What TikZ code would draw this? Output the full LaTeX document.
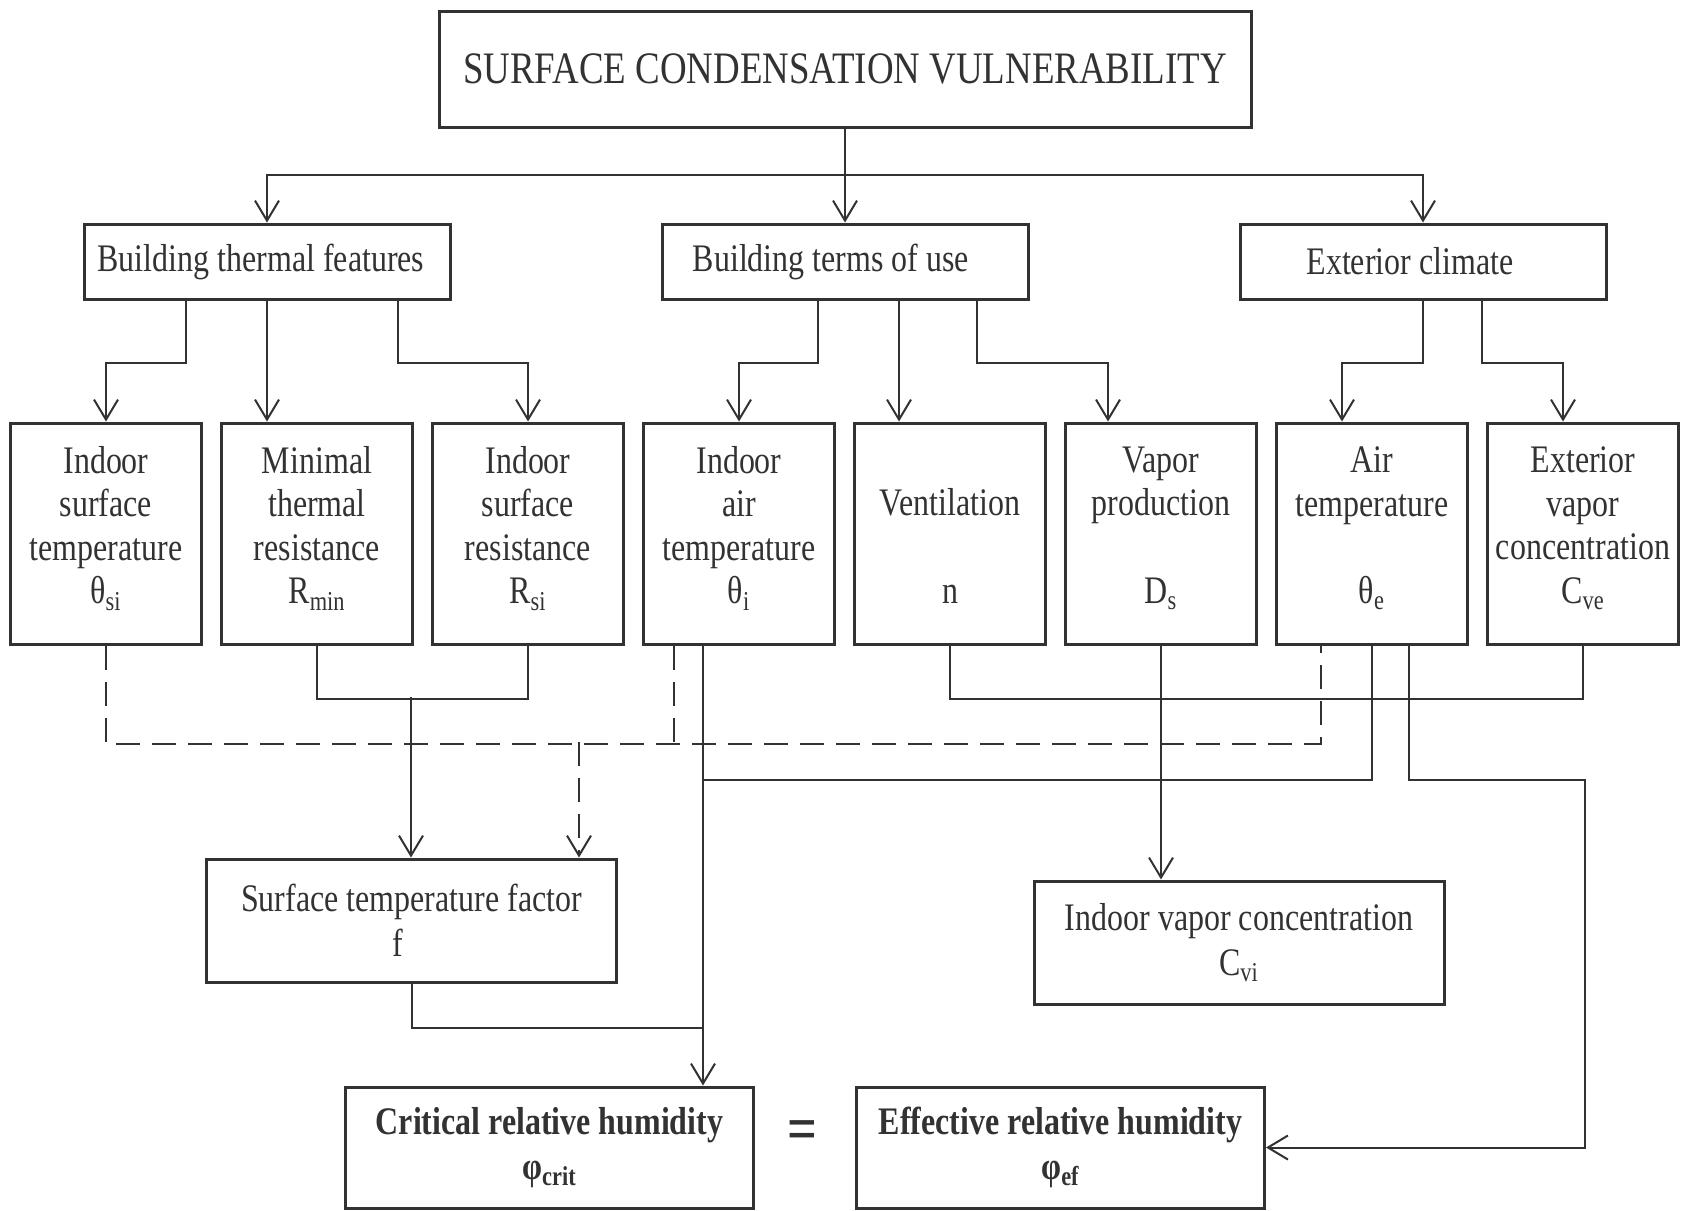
\documentclass[tikz,border=0pt]{standalone}
\usepackage{fontspec}
\setmainfont{Liberation Serif}[FakeStretch=0.82]
\usetikzlibrary{arrows.meta,calc}
\definecolor{ink}{RGB}{50,50,50}
\tikzset{
  box/.style={draw=ink,line width=1.5pt,text=ink,align=center,inner sep=0pt},
  topbox/.style={box,minimum width=406pt,minimum height=58pt,font=\fontsize{22.5}{26}\selectfont},
  groupbox/.style={box,minimum width=183pt,minimum height=37.5pt,font=\fontsize{19.5}{22.25}\selectfont},
  itembox/.style={box,minimum width=95.5pt,minimum height=110.5pt,font=\fontsize{19.5}{21.8}\selectfont,
    execute at end node={\rule[-8.5pt]{0pt}{8.5pt}}},
  resbox/.style={box,minimum width=205pt,minimum height=61.5pt,font=\fontsize{19.5}{22.25}\selectfont},
  endbox/.style={box,minimum width=204pt,minimum height=60.5pt,font=\fontsize{19.5}{22.5}\selectfont\bfseries},
  eqsign/.style={text=ink,inner sep=0pt,font=\fontsize{32}{32}\selectfont\bfseries},
  arr/.style={-{Straight Barb[length=10pt,width=12pt]}},
  dline/.style={dash pattern=on 12pt off 6pt}
}
\begin{document}
\begin{tikzpicture}[x=0.5pt,y=-0.5pt,line width=1pt,color=ink]
  \useasboundingbox (0,0) rectangle (1688,1211);
  % top and groups
  \node[topbox] (scv) at (845,69) {SURFACE CONDENSATION VULNERABILITY};
  \node[groupbox] (thermal) at (267,261.5) {Building thermal features\hspace*{6pt}};
  \node[groupbox] (terms) at (845,261.5) {Building terms of use\hspace*{14pt}};
  \node[groupbox] (climate) at (1423,261.5) {Exterior climate\hspace*{13pt}};
  % parameters
  \node[itembox] (tsi) at (106,533.5) {Indoor\\surface\\temperature\\θ\textsubscript{si}};
  \node[itembox] (rmin) at (317,533.5) {Minimal\\thermal\\resistance\\R\textsubscript{min}};
  \node[itembox] (rsi) at (528,533.5) {Indoor\\surface\\resistance\\R\textsubscript{si}};
  \node[itembox] (ti) at (739,533.5) {Indoor\\air\\temperature\\θ\textsubscript{i}};
  \node[itembox] (vent) at (950,533.5) {\vphantom{I}\\Ventilation\\\vphantom{I}\\n};
  \node[itembox] (vprod) at (1161,533.5) {Vapor\\production\\\vphantom{I}\\D\textsubscript{s}};
  \node[itembox] (te) at (1372,533.5) {Air\\temperature\\\vphantom{I}\\θ\textsubscript{e}};
  \node[itembox] (cve) at (1583,533.5) {Exterior\\vapor\\concentration\\C\textsubscript{ve}};
  % results
  \node[resbox] (fac) at (411.5,920.5) {Surface temperature factor\\f\hspace*{14pt}};
  \node[resbox] (cvi) at (1239,942.5) {Indoor vapor concentration\\C\textsubscript{vi}};
  \node[endbox] (crit) at (549.5,1147.5) {Critical relative humidity\\φ\textsubscript{crit}};
  \node[endbox] (eff) at (1060.5,1147.5) {Effective relative humidity\\φ\textsubscript{ef}};
  \node[eqsign] (eq) at (802,1136) {=};
  % top level arrows
  \coordinate (split) at (845,175);
  \draw[arr] (scv) -- (terms);
  \draw[arr] (split) -| (thermal);
  \draw[arr] (split) -| (climate);
  % groups to parameters
  \draw[arr] ($(thermal.south)+(-81,0)$) -- ++(0,62) -| (tsi);
  \draw[arr] (thermal.south) -- (thermal.south |- rmin.north);
  \draw[arr] ($(thermal.south)+(131,0)$) -- ++(0,62) -| (rsi);
  \draw[arr] ($(terms.south)+(-27,0)$) -- ++(0,62) -| (ti);
  \draw[arr] ($(terms.south)+(54,0)$) -- ($(vent.north)+(-51,0)$);
  \draw[arr] ($(terms.south)+(132,0)$) -- ++(0,62) -| ($(vprod.north)+(-53,0)$);
  \draw[arr] (climate.south) -- ++(0,62) -| ($(te.north)+(-30,0)$);
  \draw[arr] ($(climate.south)+(59,0)$) -- ++(0,62) -| ($(cve.north)+(-20,0)$);
  % dashed links
  \coordinate (dj) at (579,742);
  \draw[dline] (tsi.south) |- ($(te.south)+(-51,98)$) -- ($(te.south)+(-51,0)$);
  \draw[dline] ($(ti.south)+(-65,0)$) -- ++(0,98);
  \draw[dline,arr] (dj) -- (dj |- fac.north);
  % solid links
  \coordinate (rj) at (411,697);
  \coordinate (ci) at ($(ti.south)+(-36,0)$);
  \coordinate (tj) at (703,780);
  \coordinate (ej) at (1585,780);
  \coordinate (fj) at (703,1028);
  \draw (rmin.south) -- ++(0,53) -| (rsi.south);
  \draw[arr] (rj) -- (rj |- fac.north);
  \draw[arr] (ci) -- (ci |- crit.north);
  \draw (te.south) |- (tj);
  \draw[arr] ($(te.south)+(37,0)$) |- (ej) |- (eff.east);
  \draw (fac.south) |- (fj);
  \draw (vent.south) -- ++(0,53) -| (cve.south);
  \draw[arr] (vprod.south) -- (vprod.south |- cvi.north);
\end{tikzpicture}
\end{document}
